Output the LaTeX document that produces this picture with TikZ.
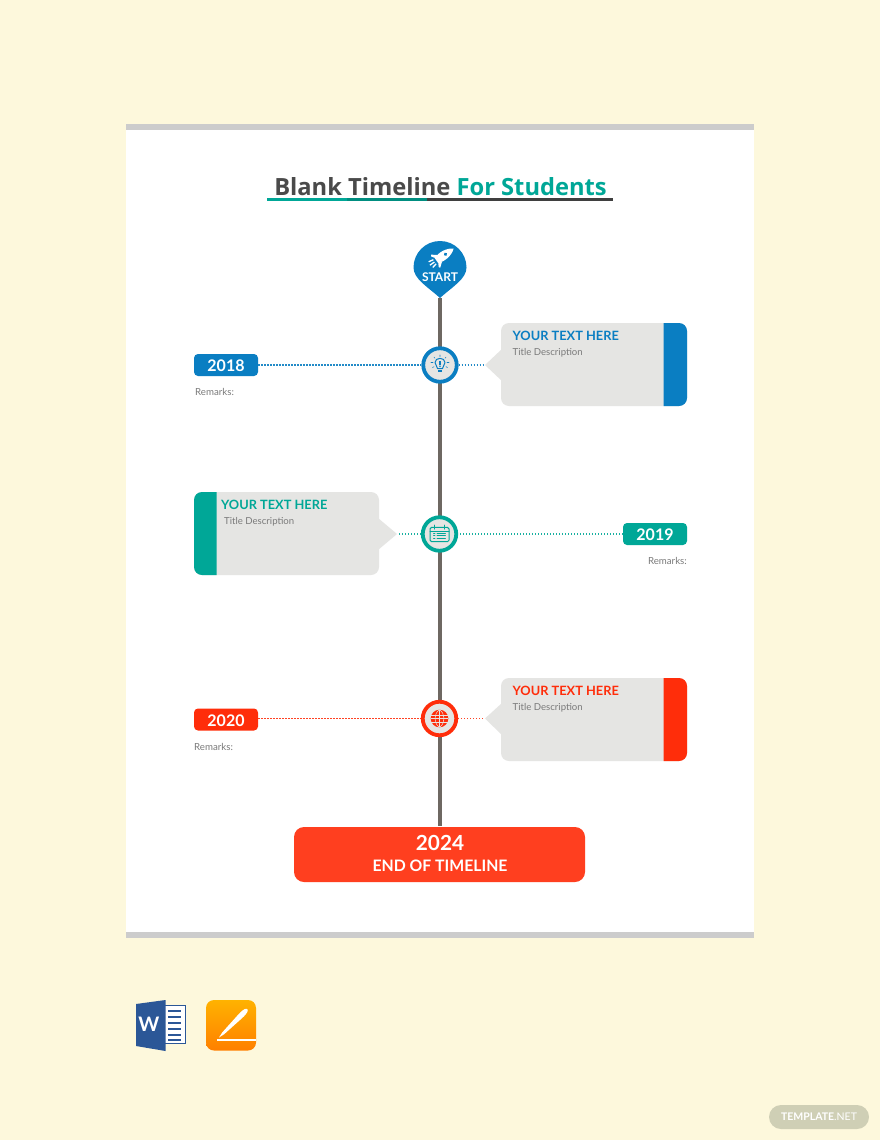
\documentclass[tikz,border=0pt]{standalone}
\usepackage{fontspec}
\setmainfont{Lato}
\newfontfamily\titlefont{Open Sans}
\usetikzlibrary{shadings}
\definecolor{bgc}{HTML}{FDF8DC}
\definecolor{barc}{HTML}{CCCCCC}
\definecolor{blu}{HTML}{0A7EC2}
\definecolor{tea}{HTML}{00A797}
\definecolor{rd}{HTML}{FF2D0A}
\definecolor{endc}{HTML}{FF3F1F}
\definecolor{pan}{HTML}{E5E5E3}
\definecolor{axisc}{HTML}{6E6862}
\definecolor{ttl}{HTML}{4A4A4A}
\definecolor{gtx}{HTML}{7A7A7A}
\definecolor{wrd}{HTML}{2B5797}
\definecolor{badge}{HTML}{CFCFB5}
\tikzset{
 yearbox/.style={fill=#1,rounded corners=4pt,minimum width=64pt,minimum height=22pt,inner sep=0pt,text=white,text height=13.5pt,text depth=0pt,font=\fontsize{16}{16}\selectfont\bfseries},
 ring/.style={circle,draw=#1,line width=3.8pt,fill=pan,minimum size=33.5pt,inner sep=0pt},
 dotline/.style={draw=#1!90!white,line width=1.1pt,dash pattern=on 1.3pt off 1.7pt},
 head/.style={text=#1,anchor=base west,inner sep=0pt,font=\fontsize{12.8}{13}\selectfont\bfseries},
 subt/.style={text=gtx,anchor=base west,inner sep=0pt,font=\fontsize{9.6}{10}\selectfont},
 rem/.style={text=gtx,inner sep=0pt,font=\fontsize{9.7}{10}\selectfont},
 icon/.style={draw=#1,line width=1pt,line cap=round,line join=round},
}
\begin{document}
\begin{tikzpicture}[x=1pt,y=-1pt]
\useasboundingbox (0,0) rectangle (880,1140);
\fill[bgc] (0,0) rectangle (880,1140);
% page
\fill[white] (126,124) rectangle (754,938);
\fill[barc] (126,124) rectangle (754,130);
\fill[barc] (126,932) rectangle (754,938);
% title
\node[anchor=base,inner sep=0pt,font=\titlefont\fontsize{23.7}{25}\selectfont\bfseries] (title) at (440.5,195) {\textcolor{ttl}{Blank Timeline} \textcolor{tea}{For Students}};
\fill[tea] (267,198) rectangle (347,201);
\fill[tea!85!black] (347,198) rectangle (427,201);
\fill[ttl!85!black] (427,198) rectangle (613,201);
% nodes on the axis
\coordinate (pintip) at (440,298);
\node[circle,minimum size=1pt,inner sep=0pt] (endtop) at (440,827) {};
% axis
\draw[axisc,line width=4pt] (pintip) -- (endtop);
\fill[blu] (413.5,267.5) .. controls (413.5,252.9) and (425.4,241) .. (440,241) .. controls (454.6,241) and (466.5,252.9) .. (466.5,267.5) .. controls (466.5,279) and (452,287) .. (pintip) .. controls (428,287) and (413.5,279) .. (413.5,267.5) -- cycle;
\node[inner sep=0pt,text=white,font=\fontsize{12}{12}\selectfont\bfseries] (starttxt) at (440,277) {START};
\node[ring=blu] (c1) at (440,365) {};
\node[ring=tea] (c2) at (439.5,534) {};
\node[ring=rd] (c3) at (439.5,718.5) {};
% rocket
\begin{scope}[shift={(443,256)},rotate=35]
 \fill[white] (-8,-3) .. controls (-2,-5.5) and (7,-5) .. (13,0) .. controls (7,5) and (-2,5.5) .. (-8,3) -- cycle;
 \fill[white] (-4,-4) -- (-9,-8) -- (-10,-6.5) -- (-7,-2) -- cycle;
 \fill[white] (-4,4) -- (-9,8) -- (-10,6.5) -- (-7,2) -- cycle;
 \fill[blu] (3,0) circle (1.8);
 \draw[white,line width=1.3pt] (-15,-3.5) -- (-10,-2.5) (-16,0) -- (-10.5,0) (-15,3.5) -- (-10,2.5);
\end{scope}
% bulb
\begin{scope}[shift={(c1)}]
 \draw[icon=blu] (-2.5,3.5) .. controls (-2.5,1) and (-5,0) .. (-5,-2.5) .. controls (-5,-8) and (5,-8) .. (5,-2.5) .. controls (5,0) and (2.5,1) .. (2.5,3.5) -- cycle;
 \fill[blu] (-2.2,4.5) rectangle (2.2,7);
 \fill[blu] (-0.7,-4.5) rectangle (0.7,-0.5);
 \fill[blu] (0,1.2) circle (0.9);
 \draw[icon=blu,line width=.6pt] (0,-10) -- (0,-8.4) (-6,-7.8) -- (-5,-6.8) (6,-7.8) -- (5,-6.8) (-9,-2.5) -- (-7,-2.5) (9,-2.5) -- (7,-2.5) (-7.5,2.5) -- (-6,1.7) (7.5,2.5) -- (6,1.7);
\end{scope}
% calendar
\begin{scope}[shift={(c2)}]
 \draw[icon=tea,rounded corners=1.5pt] (-9.5,-6.7) rectangle (9.5,7.7);
 \draw[icon=tea] (-9.5,-3) -- (9.5,-3) (-5,-9) -- (-5,-5) (5,-9) -- (5,-5);
 \draw[icon=tea,line width=.8pt] (-6,-0.7) -- (-4.5,-0.7) (-2.5,-0.7) -- (6,-0.7) (-6,1.7) -- (-4.5,1.7) (-2.5,1.7) -- (6,1.7) (-6,4) -- (-4.5,4) (-2.5,4) -- (6,4);
\end{scope}
% globe
\begin{scope}[shift={(c3)}]
 \fill[rd] (0,0) circle (8.8);
 \draw[pan,line width=.5pt] (-8.4,-3.6) -- (8.4,-3.6) (-8.8,0) -- (8.8,0) (-8.4,3.6) -- (8.4,3.6) (0,-8.8) -- (0,8.8);
 \draw[pan,line width=.5pt] (0,-8.8) .. controls (-6,-5) and (-6,5) .. (0,8.8) (0,-8.8) .. controls (6,-5) and (6,5) .. (0,8.8);
\end{scope}
% 2018 row
\node[yearbox=blu] (y18) at (226,365) {2018};
\node[rem,anchor=base west] (r18) at (195,395) {Remarks:};
\coordinate (t1) at (485,365);
\draw[dotline=blu] (y18) -- (c1);
\draw[dotline=blu] (c1) -- (t1);
\fill[pan] (t1) -- (502,349) -- (502,381) -- cycle;
\fill[pan,rounded corners=8pt] (501,323) rectangle (687,406);
\fill[blu] (663.5,323) [rounded corners=8pt] -- (687,323) -- (687,406) [sharp corners] -- (663.5,406) -- cycle;
\node[head=blu] (h1) at (512.5,340) {YOUR TEXT HERE};
\node[subt] (s1) at (512.5,355) {Title Description};
% 2019 row
\node[yearbox=tea] (y19) at (655,534) {2019};
\node[rem,anchor=base east] (r19) at (687,564) {Remarks:};
\coordinate (t2) at (397,534);
\draw[dotline=tea] (y19) -- (c2);
\draw[dotline=tea] (c2) -- (t2);
\fill[pan] (t2) -- (378,518) -- (378,550) -- cycle;
\fill[pan,rounded corners=8pt] (194,492) rectangle (379,575);
\fill[tea] (216.5,492) [rounded corners=8pt] -- (194,492) -- (194,575) [sharp corners] -- (216.5,575) -- cycle;
\node[head=tea] (h2) at (221,509) {YOUR TEXT HERE};
\node[subt] (s2) at (224,524) {Title Description};
% 2020 row
\node[yearbox=rd] (y20) at (226,719.5) {2020};
\node[rem,anchor=base west] (r20) at (194,750) {Remarks:};
\coordinate (t3) at (485,718.5);
\draw[dotline=rd] (y20.east |- c3) -- (c3);
\draw[dotline=rd] (c3) -- (t3);
\fill[pan] (t3) -- (502,703) -- (502,735) -- cycle;
\fill[pan,rounded corners=8pt] (501,678) rectangle (687,761);
\fill[rd] (663.5,678) [rounded corners=8pt] -- (687,678) -- (687,761) [sharp corners] -- (663.5,761) -- cycle;
\node[head=rd] (h3) at (512.5,695) {YOUR TEXT HERE};
\node[subt] (s3) at (512.5,710) {Title Description};
% end box
\node[fill=endc,rounded corners=10pt,minimum width=291pt,minimum height=55pt,inner sep=0pt] (endbox) at (439.5,854.5) {};
\node[inner sep=0pt,text=white,font=\fontsize{20.8}{21}\selectfont\bfseries] (endyear) at (440,843) {2024};
\node[inner sep=0pt,text=white,font=\fontsize{15.8}{16}\selectfont\bfseries] (endtxt) at (440,866) {END OF TIMELINE};
% word icon
\fill[white] (165,1005) rectangle (185.7,1043);
\draw[wrd,line width=1pt] (165,1005.5) -- (185.5,1005.5) -- (185.5,1043) -- (165,1043);
\foreach \yy in {1010.5,1016.5,1022.5,1028.5,1034.5,1040} \draw[wrd,line width=2pt] (168,\yy) -- (181,\yy);
\fill[wrd] (136,1004) -- (165.5,1000) -- (165.5,1051) -- (136,1046) -- cycle;
\node[inner sep=0pt,text=white,font=\fontsize{20}{20}\selectfont\bfseries] (wordw) at (149,1024.5) {W};
% pages icon
\shade[top color=orange!60!yellow,bottom color=orange,rounded corners=8pt] (206,1000) rectangle (256,1050.5);
\fill[white] (216.7,1039.4) rectangle (256,1040.6);
\begin{scope}[shift={(219,1037.5)},rotate=45]
 \fill[white] (0,0) -- (6,-1.3) -- (30,-2.6) .. controls (38,-3) and (40,-1.5) .. (40,0) .. controls (40,1.5) and (38,3) .. (30,2.6) -- (6,1.3) -- cycle;
\end{scope}
% badge
\node[fill=badge,rounded corners=12pt,minimum width=100pt,minimum height=24pt,inner sep=0pt,text=white,font=\fontsize{10.5}{11}\selectfont] (tpl) at (819,1117) {\textbf{TEMPLATE}.NET};
\end{tikzpicture}
\end{document}
